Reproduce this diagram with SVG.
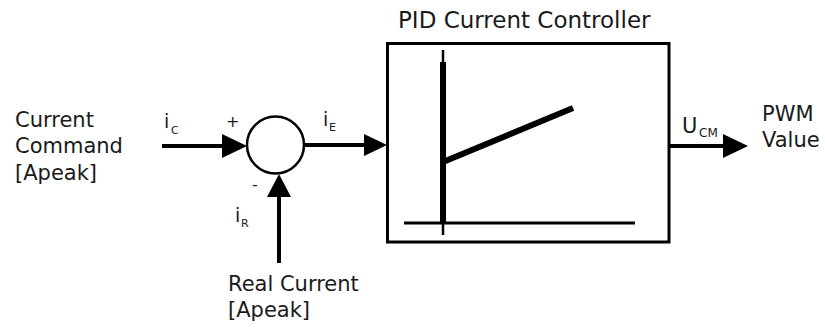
<svg xmlns="http://www.w3.org/2000/svg" width="825" height="329" viewBox="0 0 825 329">
<style>
text{font-family:"DejaVu Sans","Liberation Sans",sans-serif;fill:#1a1a1a}
.lbl{font-size:21px}
.ttl{font-size:23px}
.sym{font-size:19px}
.sub{font-size:11px}
.wire{stroke:#000;stroke-width:4;fill:none}
.head{fill:#000}
</style>
<rect width="825" height="329" fill="#fff"/>
<g id="input-label">
<text class="lbl" x="15" y="127">Current</text>
<text class="lbl" x="15" y="153">Command</text>
<text class="lbl" x="15" y="180">[Apeak]</text>
</g>
<g id="sum">
<circle cx="275.5" cy="145" r="28.5" fill="#fff" stroke="#000" stroke-width="2.5"/>
<text x="226" y="127" style="font-size:16px">+</text>
<text x="252" y="190" style="font-size:16px">-</text>
</g>
<g id="feedback-label">
<text class="lbl" x="228" y="291">Real Current</text>
<text class="lbl" x="228" y="317">[Apeak]</text>
</g>
<g id="pid">
<text class="ttl" x="398" y="28">PID Current Controller</text>
<rect x="387.5" y="43.5" width="281.5" height="198.5" fill="#fff" stroke="#000" stroke-width="3"/>
<line x1="443" y1="50" x2="443" y2="235" stroke="#000" stroke-width="2.5"/>
<line x1="443" y1="62" x2="443" y2="222" stroke="#000" stroke-width="6"/>
<line x1="404" y1="223" x2="635" y2="223" stroke="#000" stroke-width="3"/>
<line x1="443" y1="162" x2="573" y2="108" stroke="#000" stroke-width="6"/>
</g>
<g id="output-label">
<text class="lbl" x="762" y="121">PWM</text>
<text class="lbl" x="762" y="147">Value</text>
</g>
<g id="connectors">
<line class="wire" x1="162" y1="146" x2="224" y2="146"/>
<polygon class="head" points="222,134 247,146 222,158"/>
<text class="sym" x="164" y="128">i</text><text class="sub" x="171" y="134">C</text>
<line class="wire" x1="304" y1="145" x2="366" y2="145"/>
<polygon class="head" points="364,134 387,145 364,156"/>
<text class="sym" x="323" y="126">i</text><text class="sub" x="329" y="131">E</text>
<line class="wire" x1="279" y1="263" x2="279" y2="195"/>
<polygon class="head" points="267,197 279,174 291,197"/>
<text class="sym" x="235" y="222">i</text><text class="sub" x="241" y="227">R</text>
<line class="wire" x1="669" y1="146" x2="725" y2="146"/>
<polygon class="head" points="723,134 748,146 723,158"/>
<text class="lbl" x="682" y="133">U</text><text class="sub" x="699" y="137" style="font-size:12px">CM</text>
</g>
</svg>
